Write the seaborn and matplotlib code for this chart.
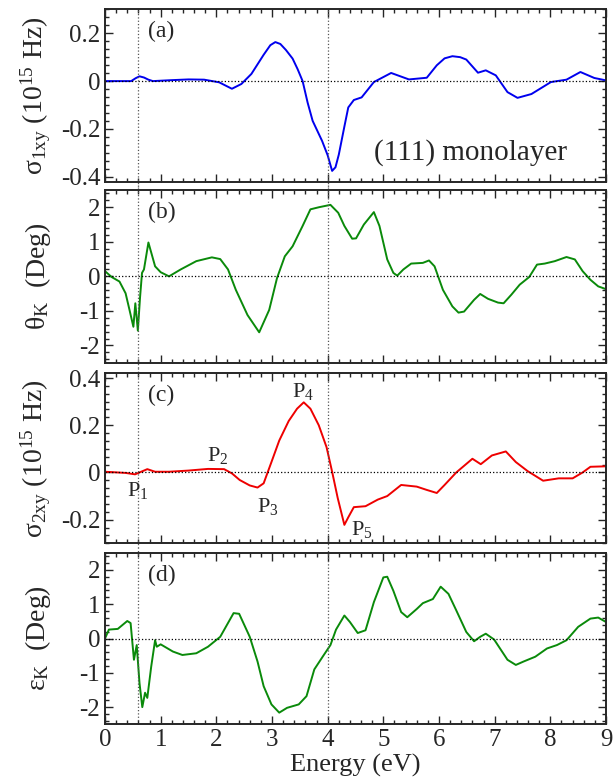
import numpy as np
import pandas as pd
import seaborn as sns
import matplotlib
matplotlib.use("Agg")
from matplotlib import pyplot as plt
from matplotlib.ticker import MultipleLocator, AutoMinorLocator

# panel (a): sigma_1xy (10^15 Hz)
e_a = [0.0, 0.47, 0.55, 0.62, 0.7, 0.78, 0.86, 1.2, 1.5, 1.78, 2.05, 2.28, 2.45,
       2.63, 2.85, 2.97, 3.06, 3.15, 3.25, 3.37, 3.46, 3.55, 3.64, 3.73, 3.9,
       4.0, 4.08, 4.14, 4.2, 4.3, 4.37, 4.47, 4.61, 4.83, 5.14, 5.46, 5.78,
       5.96, 6.1, 6.24, 6.38, 6.49, 6.7, 6.84, 7.02, 7.23, 7.41, 7.66, 8.01,
       8.29, 8.54, 8.79, 9.0]
s1 = [0.0, 0.0, 0.012, 0.02, 0.015, 0.006, 0.0, 0.004, 0.007, 0.006, -0.005,
      -0.032, -0.012, 0.03, 0.11, 0.15, 0.163, 0.155, 0.13, 0.094, 0.05, 0.0,
      -0.09, -0.166, -0.25, -0.31, -0.375, -0.36, -0.307, -0.19, -0.11, -0.079,
      -0.068, -0.004, 0.034, 0.007, 0.014, 0.066, 0.095, 0.104, 0.1, 0.09,
      0.035, 0.045, 0.024, -0.046, -0.07, -0.054, -0.004, 0.006, 0.038, 0.013,
      0.003]

# panel (b): Kerr rotation theta_K (Deg)
e_b = [0.0, 0.12, 0.26, 0.37, 0.44, 0.51, 0.545, 0.59, 0.63, 0.665, 0.7, 0.78,
       0.9, 1.0, 1.15, 1.36, 1.64, 1.92, 2.07, 2.21, 2.35, 2.56, 2.77, 2.95,
       3.09, 3.23, 3.37, 3.55, 3.69, 3.84, 4.05, 4.19, 4.3, 4.44, 4.51, 4.65,
       4.83, 4.93, 5.07, 5.18, 5.25, 5.36, 5.5, 5.71, 5.82, 5.92, 6.07, 6.24,
       6.35, 6.45, 6.63, 6.74, 6.88, 7.06, 7.16, 7.3, 7.45, 7.62, 7.76, 7.9,
       8.08, 8.29, 8.44, 8.58, 8.72, 8.86, 9.0]
theta = [0.15, -0.02, -0.15, -0.49, -0.97, -1.46, -0.78, -1.57, -0.6, 0.1, 0.2,
         0.98, 0.29, 0.12, 0.0, 0.2, 0.44, 0.55, 0.5, 0.2, -0.39, -1.12, -1.62,
         -0.97, -0.05, 0.58, 0.87, 1.46, 1.94, 2.0, 2.07, 1.84, 1.46, 1.09, 1.1,
         1.5, 1.86, 1.46, 0.49, 0.1, 0.02, 0.2, 0.37, 0.39, 0.46, 0.29, -0.39,
         -0.87, -1.05, -1.02, -0.68, -0.51, -0.65, -0.76, -0.78, -0.53, -0.24,
         -0.02, 0.34, 0.37, 0.44, 0.56, 0.49, 0.15, -0.1, -0.29, -0.37]

# panel (c): sigma_2xy (10^15 Hz)
e_c = [0.0, 0.37, 0.54, 0.62, 0.76, 0.9, 1.15, 1.5, 1.85, 2.14, 2.28, 2.42,
       2.6, 2.74, 2.85, 2.99, 3.13, 3.3, 3.45, 3.57, 3.69, 3.84, 3.98, 4.08,
       4.18, 4.3, 4.37, 4.47, 4.68, 4.9, 5.07, 5.32, 5.6, 5.78, 5.96, 6.1,
       6.31, 6.6, 6.75, 6.95, 7.2, 7.38, 7.59, 7.87, 8.15, 8.4, 8.58, 8.72, 9.0]
s2 = [0.003, -0.002, -0.008, 0.0, 0.014, 0.003, 0.003, 0.008, 0.015, 0.014,
      -0.004, -0.032, -0.055, -0.064, -0.046, 0.044, 0.135, 0.218, 0.27, 0.297,
      0.27, 0.2, 0.107, 0.003, -0.108, -0.222, -0.19, -0.147, -0.143, -0.115,
      -0.1, -0.053, -0.06, -0.074, -0.087, -0.053, 0.0, 0.058, 0.035, 0.072,
      0.089, 0.044, 0.006, -0.035, -0.025, -0.025, 0.0, 0.024, 0.026]

# panel (d): Kerr ellipticity eps_K (Deg)
e_d = [0.0, 0.07, 0.23, 0.4, 0.46, 0.52, 0.57, 0.62, 0.67, 0.72, 0.76, 0.83,
       0.9, 0.93, 1.0, 1.22, 1.39, 1.64, 1.85, 2.07, 2.31, 2.41, 2.6, 2.74,
       2.85, 2.99, 3.13, 3.27, 3.48, 3.62, 3.76, 3.91, 4.05, 4.15, 4.3, 4.4,
       4.54, 4.68, 4.83, 5.0, 5.07, 5.18, 5.32, 5.43, 5.6, 5.71, 5.89, 6.03,
       6.17, 6.31, 6.49, 6.63, 6.74, 6.84, 6.99, 7.23, 7.38, 7.52, 7.73, 7.94,
       8.12, 8.29, 8.5, 8.72, 8.86, 9.0]
eps = [0.0, 0.26, 0.28, 0.51, 0.45, -0.62, -0.19, -1.3, -2.0, -1.58, -1.73,
       -0.82, -0.05, -0.24, -0.17, -0.38, -0.48, -0.43, -0.24, 0.05, 0.74, 0.72,
       0.05, -0.67, -1.39, -1.92, -2.16, -2.02, -1.92, -1.68, -0.9, -0.53,
       -0.19, 0.26, 0.67, 0.48, 0.16, 0.24, 1.06, 1.78, 1.8, 1.39, 0.77, 0.62,
       0.86, 1.03, 1.15, 1.51, 1.3, 0.82, 0.19, -0.08, 0.05, 0.14, -0.03, -0.62,
       -0.77, -0.67, -0.53, -0.29, -0.19, -0.05, 0.34, 0.58, 0.61, 0.48]

ref_energies = [0.6, 4.0]
peak_names = ['P$_1$', 'P$_2$', 'P$_3$', 'P$_4$', 'P$_5$']
peak_x = [0.58, 2.03, 2.92, 3.55, 4.62]
peak_y = [-0.075, 0.072, -0.145, 0.345, -0.24]

sns.set_style("ticks")
plt.rcParams['font.family'] = ['Liberation Serif', 'DejaVu Serif']
plt.rcParams['mathtext.fontset'] = 'custom'
plt.rcParams['mathtext.rm'] = 'Liberation Serif'
plt.rcParams['mathtext.it'] = 'Liberation Serif:italic'
plt.rcParams['mathtext.default'] = 'regular'

fig = plt.figure(figsize=(6.14, 7.79), dpi=100)
boxes = [[0.171, 0.7668, 0.816, 0.2213],
         [0.171, 0.5344, 0.816, 0.2217],
         [0.171, 0.3026, 0.816, 0.2182],
         [0.171, 0.0702, 0.816, 0.2203]]
axes = [fig.add_axes(b) for b in boxes]

panels = [
    (e_a, s1, '#0000ee', (-0.42, 0.3), 0.2, 6,
     'σ$_{1xy}$ (10$^{15}$ Hz)', '(a)'),
    (e_b, theta, '#0a8a0a', (-2.5, 2.5), 1, 5,
     'θ$_{K}$  (Deg)', '(b)'),
    (e_c, s2, '#ee0000', (-0.3, 0.42), 0.2, 6,
     'σ$_{2xy}$ (10$^{15}$ Hz)', '(c)'),
    (e_d, eps, '#0a8a0a', (-2.5, 2.5), 1, 5,
     'ε$_{K}$  (Deg)', '(d)'),
]

for i, (ax, (ex, yv, col, ylim, major, nminor, ylab, tag)) in enumerate(zip(axes, panels)):
    df = pd.DataFrame({'E': ex, 'v': yv})
    sns.lineplot(data=df, x='E', y='v', ax=ax, color=col, lw=1.4)
    ax.axhline(0, color='k', ls=':', lw=0.9)
    lo = -0.03 if i < 3 else 0.0
    hi = 1.03 if i > 0 else 1.0
    for xr in ref_energies:
        ax.axvline(xr, ymin=lo, ymax=hi, color='#555555', ls=':', lw=0.9,
                   clip_on=False)
    ax.set_xlim(0, 9)
    ax.set_ylim(*ylim)
    ax.xaxis.set_major_locator(MultipleLocator(1))
    ax.xaxis.set_minor_locator(AutoMinorLocator(5))
    ax.yaxis.set_major_locator(MultipleLocator(major))
    ax.yaxis.set_minor_locator(AutoMinorLocator(nminor))
    ax.tick_params(which='both', direction='in', top=True, right=True,
                   labelsize=18, width=1.0)
    ax.tick_params(which='major', length=6)
    ax.tick_params(which='minor', length=3)
    for sp in ax.spines.values():
        sp.set_linewidth(1.4)
    ax.set_ylabel(ylab, fontsize=20)
    ax.yaxis.set_label_coords(-0.104, 0.5)
    ax.set_xlabel('')
    ax.text(0.085, 0.93, tag, transform=ax.transAxes, fontsize=17,
            ha='left', va='top')
    ax.yaxis.set_major_formatter(plt.FuncFormatter(
        lambda v, p: '0' if abs(v) < 1e-9 else ('%g' % v)))
    if i < 3:
        ax.tick_params(labelbottom=False)

axes[0].text(6.57, -0.3, '(111) monolayer', fontsize=21, ha='center',
             va='center')
for name, px, py in zip(peak_names, peak_x, peak_y):
    axes[2].text(px, py, name, fontsize=16, ha='center', va='center')

axes[3].set_xlabel('Energy (eV)', fontsize=19, labelpad=2)

fig.savefig('out.png', dpi=100)
